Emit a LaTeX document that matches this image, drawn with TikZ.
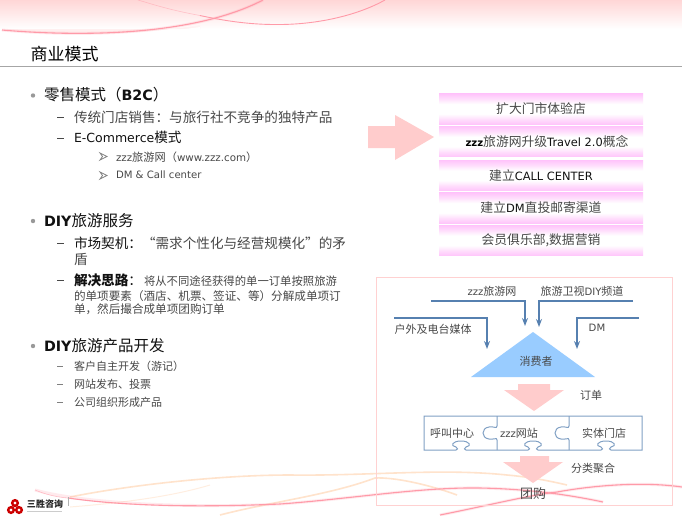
\documentclass[tikz,border=0pt]{standalone}
\usepackage{fontspec}
\usetikzlibrary{arrows.meta}
\setmainfont{Noto Sans CJK SC}
\newfontfamily\lat{DejaVu Sans}[Scale=0.92]
\definecolor{txtgray}{HTML}{484848}
\definecolor{txtdark}{HTML}{111111}
\definecolor{linkblue}{HTML}{5680B0}
\definecolor{arrowpink}{HTML}{FFCCCC}
\definecolor{boxpink}{HTML}{FFC4FB}
\definecolor{boxpinkmid}{HTML}{FFDDFC}
\definecolor{curvered}{HTML}{FF9AA8}
\definecolor{curveorange}{HTML}{FFE3CC}
\definecolor{trianglefill}{HTML}{99CCFF}
\pgfdeclareverticalshading{boxband}{100bp}{color(0bp)=(boxpink); color(25bp)=(boxpink); color(33bp)=(boxpinkmid); color(42bp)=(white); color(58bp)=(white); color(67bp)=(boxpinkmid); color(75bp)=(boxpink); color(100bp)=(boxpink)}
\newcommand{\fs}[1]{\fontsize{#1}{#1}\selectfont}
\tikzset{
  x=1pt,y=-1pt,
  lbl/.style={inner sep=0pt,outer sep=0pt,anchor=center},
  head/.style={lbl,anchor=west,text=txtdark,font=\fs{15.5}},
  sub/.style={lbl,anchor=west,text=txtgray,font=\fs{13.6}},
  subb/.style={lbl,anchor=west,text=txtgray,font=\fs{11.6}},
  third/.style={lbl,anchor=west,text=txtgray,font=\fs{11}},
  dia/.style={lbl,text=txtgray,font=\fs{11}},
  pinkbox/.style={lbl,minimum width=204pt,minimum height=30.5pt,shade,shading=boxband,text=txtgray,font=\fs{12.8}},
  blockarrow/.style={fill=arrowpink,draw=none},
  feed/.style={draw=linkblue,line width=1.3pt,-{Stealth[length=8pt,width=6pt]}},
  puzzle/.style={draw=linkblue!75,line width=1pt},
  redcurve/.style={draw=curvered,line width=1.1pt},
  redglow/.style={draw=curvered,line width=3pt,opacity=0.2},
  orangecurve/.style={draw=curveorange,line width=1.6pt},
  dashmark/.style={draw=txtgray,line width=0.9pt},
  bulletdot/.style={fill=gray!80,draw=none},
  chev/.style={draw=gray,line width=0.8pt,fill=white},
}
\begin{document}
\begin{tikzpicture}
\useasboundingbox (0,0) rectangle (682,515);
\fill[white] (0,0) rectangle (682,515);
% top band
\shade[top color=red!16!white,bottom color=white] (0,0) rectangle (682,29);
\shade[top color=red!4!white,bottom color=red!9!white] (2,29) .. controls (60,36) and (130,36) .. (200,25) -- (200,29) -- cycle;
\fill[white] (0,30.5) .. controls (60,36) and (130,37) .. (200,27) -- (200,40) -- (0,40) -- cycle;
\draw[redglow] (2,30) .. controls (70,36) and (190,38) .. (263,0);
\draw[redcurve] (2,30) .. controls (70,36) and (190,38) .. (263,0);
\draw[curvered,line width=.6pt,opacity=.5] (138,0) .. controls (155,5) and (170,10) .. (200,15.5);
\draw[curvered,line width=.9pt] (200,15.5) .. controls (225,21) and (250,24.5) .. (275,24.5) .. controls (320,25) and (360,14) .. (385,0);
% bottom curves
\draw[orangecurve,line width=1pt,opacity=.6] (70,507) .. controls (120,503) and (170,497) .. (210,485);
\draw[orangecurve] (70,497) .. controls (130,485) and (220,475) .. (290,475) .. controls (370,476) and (440,468) .. (507,475) .. controls (530,477) and (550,481) .. (567,485);
\draw[orangecurve] (220,515) .. controls (270,502) and (330,495) .. (375,478) .. controls (395,477) and (430,485) .. (457,495);
\draw[redglow] (35,490) .. controls (90,505) and (200,508) .. (280,504) .. controls (350,499) and (420,487) .. (480,488) .. controls (530,489) and (570,495) .. (603,502);
\draw[curvered,line width=.6pt,opacity=.6] (35,490) .. controls (45,494) and (55,497) .. (68,498);
\draw[redcurve] (68,498) .. controls (130,507) and (210,507) .. (280,504) .. controls (350,499) and (420,487) .. (480,488) .. controls (530,489) and (570,495) .. (603,502);
\draw[redglow] (440,515) .. controls (490,505) and (530,495) .. (557,492) .. controls (590,486) and (640,481) .. (682,487);
\draw[redcurve] (440,515) .. controls (490,505) and (530,495) .. (557,492) .. controls (590,486) and (640,481) .. (682,487);
% title
\node[lbl,anchor=west,text=black,font=\fs{17}] (title) at (30.5,54) {商业模式};
\draw[gray!70,line width=1pt] (0,66) -- (682,66);
% left text
\fill[bulletdot] (33,95.5) circle (2.2);
\node[head] (h1) at (44,95) {零售模式（\textbf{\lat B2C}）};
\draw[dashmark] (57,117.5) -- (64,117.5);
\node[sub] (s1) at (74,117) {传统门店销售：与旅行社不竞争的独特产品};
\draw[dashmark] (57,138.5) -- (64,138.5);
\node[sub,text=txtdark] (s2) at (74,137) {{\lat E-Commerce}模式};
\draw[chev] (100,153) -- (107,156.5) -- (100,160) -- (102.5,156.5) -- cycle;
\node[third,font=\fs{11.2}] (t1) at (116,157) {{\lat zzz}旅游网（{\lat www.zzz.com}）};
\draw[chev] (100,172) -- (107,175.5) -- (100,179) -- (102.5,175.5) -- cycle;
\node[third] (t2) at (116,175) {\lat DM \& Call center};
\fill[bulletdot] (33,221) circle (2.2);
\node[head] (h2) at (44,221) {\textbf{\lat DIY}旅游服务};
\draw[dashmark] (57,243.5) -- (64,243.5);
\node[sub] (s3) at (74,243) {\textcolor{txtdark}{市场契机：}“需求个性化与经营规模化”的矛};
\node[sub] (s3b) at (74,259) {盾};
\draw[dashmark] (57,280.5) -- (64,280.5);
\node[sub,text=txtdark] (s4) at (74,280) {\textbf{解决思路}：};
\node[subb,font=\fs{11.35}] (s4a) at (144,281) {将从不同途径获得的单一订单按照旅游};
\node[subb] (s4b) at (74,296) {的单项要素（酒店、机票、签证、等）分解成单项订};
\node[subb] (s4c) at (74,309) {单，然后撮合成单项团购订单};
\fill[bulletdot] (33,346) circle (2.2);
\node[head] (h3) at (44,346) {\textbf{\lat DIY}旅游产品开发};
\draw[dashmark,line width=.7pt,gray] (57,366.5) -- (63,366.5);
\node[third] (p1) at (74,366) {客户自主开发（游记）};
\draw[dashmark,line width=.7pt,gray] (57,384.5) -- (63,384.5);
\node[third] (p2) at (74,384) {网站发布、投票};
\draw[dashmark,line width=.7pt,gray] (57,402.5) -- (63,402.5);
\node[third] (p3) at (74,402) {公司组织形成产品};
% pink boxes
\node[pinkbox] (b1) at (541,109) {扩大门市体验店};
\node[pinkbox] (b2) at (541,141.7) {\hspace*{12pt}\textcolor{black}{\lat\bfseries\fs{11}zzz}旅游网升级\textcolor{txtdark}{\lat\fs{12.4}Travel 2.0}概念};
\node[pinkbox] (b3) at (541,175.5) {建立\textcolor{txtdark}{\lat\fs{12.4}CALL CENTER}};
\node[pinkbox] (b4) at (541,208) {建立\textcolor{txtdark}{\lat\fs{12.4}DM}直投邮寄渠道};
\node[pinkbox] (b5) at (541,240.5) {会员俱乐部,数据营销};
\filldraw[blockarrow] (368,126) -- (395,126) -- (395,115) -- (434,137) -- (395,160) -- (395,148) -- (368,148) -- cycle;
% frame
\draw[red!18!white,line width=.8pt] (376,277) rectangle (672,505);
% triangle
\fill[trianglefill] (533,332) -- (595,377) -- (471,377) -- cycle;
\coordinate (tipa) at (525,326);
\coordinate (tipb) at (539,327);
\coordinate (tipc) at (487,349);
\coordinate (tipd) at (577,349);
\coordinate (sa) at (431,301);
\coordinate (sb) at (633,301);
\coordinate (sc) at (394,318);
\coordinate (sd) at (639,318);
\draw[feed] (sa) -| (tipa);
\draw[feed] (sb) -| (tipb);
\draw[feed] (sc) -| (tipc);
\draw[feed] (sd) -| (tipd);
\node[dia] (n1) at (492,291) {{\lat zzz}旅游网};
\node[dia] (n2) at (582,291) {旅游卫视{\lat DIY}频道};
\node[dia] (n3) at (433,329) {户外及电台媒体};
\node[dia] (n4) at (597,328) {\lat DM};
\node[dia] (n5) at (536,361) {消费者};
% arrow 1
\filldraw[blockarrow] (518,384) -- (550,384) -- (550,390) -- (564,390) -- (534,411) -- (504,390) -- (518,390) -- cycle;
\node[dia] (n6) at (591,395) {订单};
% puzzle
\draw[puzzle] (424,450) -- (424,416) -- (642,416) -- (642,450)
  -- (611,450) .. controls (609,450) and (609,448) .. (611,447) .. controls (617,446) and (615,441) .. (606,441) .. controls (597,441) and (595,446) .. (601,447) .. controls (603,448) and (603,450) .. (601,450)
  -- (538,450) .. controls (536,450) and (536,448) .. (538,447) .. controls (544,446) and (542,441) .. (533,441) .. controls (524,441) and (522,446) .. (528,447) .. controls (530,448) and (530,450) .. (528,450)
  -- (466,450) .. controls (464,450) and (464,448) .. (466,447) .. controls (472,446) and (470,441) .. (461,441) .. controls (452,441) and (450,446) .. (456,447) .. controls (458,448) and (458,450) .. (456,450)
  -- cycle;
\draw[puzzle] (497,416) -- (497,426) .. controls (497,429) and (493,426) .. (489,427) .. controls (481,428) and (481,438) .. (489,439) .. controls (493,440) and (497,437) .. (497,440) -- (497,450);
\draw[puzzle] (569,416) -- (569,426) .. controls (569,429) and (565,426) .. (561,427) .. controls (553,428) and (553,438) .. (561,439) .. controls (565,440) and (569,437) .. (569,440) -- (569,450);
\node[dia] (n7) at (452,433) {呼叫中心};
\node[dia] (n8) at (519,433) {{\lat zzz}网站};
\node[dia] (n9) at (604,433) {实体门店};
% arrow 2
\filldraw[blockarrow] (520,456) -- (549,456) -- (549,462) -- (563,462) -- (533,483) -- (503,462) -- (520,462) -- cycle;
\node[dia] (n10) at (593,468) {分类聚合};
\node[dia,font=\fs{13}] (n11) at (533,494) {团购};
% logo
\draw[red!80!black,line width=2.4pt] (15,503) circle (2.8) (11,510) circle (2.8) (19,510) circle (2.8);
\node[lbl,anchor=west,text=black!85,font=\fs{9}\bfseries] (logo) at (27,504.5) {三胜咨询};
\draw[gray!40,line width=.6pt] (27,511) -- (62,511);
\draw[gray!60,line width=.5pt] (68,497) -- (68,506);
\end{tikzpicture}
\end{document}
